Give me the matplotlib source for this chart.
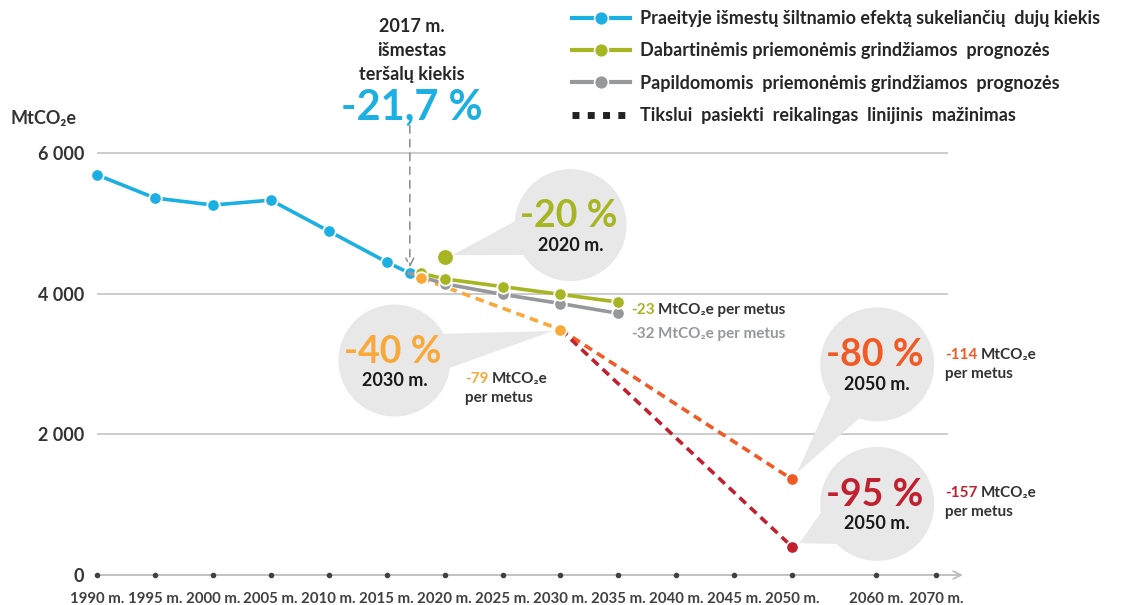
import numpy as np
import matplotlib
matplotlib.use('Agg')
import matplotlib.pyplot as plt
from matplotlib.lines import Line2D
from matplotlib.patches import Circle, Polygon
from matplotlib.transforms import IdentityTransform
from matplotlib.ticker import NullLocator

FONT = ['Lato', 'DejaVu Sans']
plt.rcParams['font.family'] = FONT
plt.rcParams['font.weight'] = 'bold'

# ---------------- data ----------------
hist_years = [1990, 1995, 2000, 2005, 2010, 2015, 2017]
hist_vals = [5690, 5360, 5260, 5330, 4890, 4450, 4290]

wem_years = [2018, 2020, 2025, 2030, 2035]
wem_vals = [4290, 4210, 4100, 3990, 3880]

wam_years = [2017, 2020, 2025, 2030, 2035]
wam_vals = [4290, 4140, 3990, 3860, 3720]

target_2020_year = [2020]
target_2020_val = [4520]

lin80_years = [2018, 2030, 2050]
lin80_vals = [4220, 3490, 1360]

lin95_years = [2030, 2050]
lin95_vals = [3490, 400]

tick_years = [1990, 1995, 2000, 2005, 2010, 2015, 2020, 2025, 2030, 2035,
              2040, 2045, 2050, 2060, 2070]
tick_labels = [f"{y} m." for y in tick_years]
y_ticks = [0, 2000, 4000, 6000]
y_labels = ["0", "2 000", "4 000", "6 000"]

legend_labels = ["Praeityje išmestų šiltnamio efektą sukeliančių  dujų kiekis",
                 "Dabartinėmis priemonėmis grindžiamos  prognozės",
                 "Papildomomis  priemonėmis grindžiamos  prognozės",
                 "Tikslui  pasiekti  reikalingas  linijinis  mažinimas"]

BLUE = '#1cb0e2'
GREEN = '#a6b521'
GRAY = '#96989b'
LORANGE = '#f8a93a'
ORANGE = '#f15a24'
RED = '#c1202f'
DARK = '#262626'
BUBBLE = '#e8e8e8'

# ------------- piecewise x scale -------------
BY = np.array([1990., 2050., 2060., 2070.])
BP = np.array([0., 12., 12 + 84 / 58, 12 + 84 / 58 + 60 / 58])


def fwd(x):
    x = np.asarray(x, float)
    out = np.interp(x, BY, BP)
    out = np.where(x < BY[0], (x - BY[0]) / 5, out)
    out = np.where(x > BY[-1], BP[-1] + (x - BY[-1]) * (BP[-1] - BP[-2]) / 10, out)
    return out


def inv(p):
    p = np.asarray(p, float)
    out = np.interp(p, BP, BY)
    out = np.where(p < BP[0], BY[0] + p * 5, out)
    out = np.where(p > BP[-1], BY[-1] + (p - BP[-1]) * 10 / (BP[-1] - BP[-2]), out)
    return out


fig = plt.figure(figsize=(11.22, 6.05), dpi=100)
ax = fig.add_axes([97 / 1122, 30 / 605, 839 / 1122, 422 / 605])
ax.set_xscale('function', functions=(fwd, inv))
ax.set_xlim(1990, 2070)
ax.set_ylim(0, 6000)
for s in ax.spines.values():
    s.set_visible(False)

# grid and axis
ax.hlines(y_ticks[1:], 1990, 2072, color='#c8c8c8', lw=1.3, zorder=1, clip_on=False)
ax.annotate('', xy=(2074.5, 0), xytext=(1990, 0),
            arrowprops=dict(arrowstyle='->', color='#bdbdbd', lw=1.3, mutation_scale=14,
                            shrinkA=0, shrinkB=0),
            annotation_clip=False, zorder=2)
ax.scatter(tick_years, [0] * len(tick_years), s=9, color='#404040', zorder=5, clip_on=False)

ax.set_xticks(tick_years)
ax.set_xticklabels(tick_labels)
ax.xaxis.set_minor_locator(NullLocator())
ax.tick_params(axis='x', length=0, pad=12, labelsize=10.8, labelcolor='#404040')
ax.set_yticks(y_ticks)
ax.set_yticklabels(y_labels)
ax.tick_params(axis='y', length=0, pad=9, labelsize=13, labelcolor='#333333')

fig.text(10 / 1122, 1 - 118 / 605, "MtCO₂e", fontsize=13, color='#333333', va='center',
         ha='left', fontweight='bold')

# ------------- bubbles -------------
def bubble(pt, dx, dy, r, pct, pct_color, year_lbl):
    px, py = ax.transData.transform(pt)
    cx, cy = px + dx, py + dy
    ang = np.arctan2(py - cy, px - cx)
    half = np.radians(18)
    b1 = (cx + r * np.cos(ang + half), cy + r * np.sin(ang + half))
    b2 = (cx + r * np.cos(ang - half), cy + r * np.sin(ang - half))
    d = np.hypot(px - cx, py - cy)
    tip = (cx + (d - 8) * np.cos(ang), cy + (d - 8) * np.sin(ang))
    ax.add_patch(Polygon([b1, tip, b2, (cx, cy)], closed=True, transform=IdentityTransform(),
                         facecolor=BUBBLE, edgecolor='none', zorder=3, clip_on=False))
    ax.add_patch(Circle((cx, cy), r, transform=IdentityTransform(), facecolor=BUBBLE,
                        edgecolor='none', zorder=3, clip_on=False))
    ax.annotate(pct, xy=pt, xytext=(dx - 2, dy + 9), textcoords='offset pixels',
                ha='center', va='center', fontsize=27, color=pct_color, fontweight='bold',
                zorder=4, annotation_clip=False)
    ax.annotate(year_lbl, xy=pt, xytext=(dx, dy - 20), textcoords='offset pixels',
                ha='center', va='center', fontsize=13, color='#1a1a1a', fontweight='bold',
                zorder=4, annotation_clip=False)


bubble((target_2020_year[0], target_2020_val[0]), 126, 32, 56, "-20 %", GREEN, "2020 m.")
bubble((lin80_years[1], lin80_vals[1]), -166, -31, 56, "-40 %", LORANGE, "2030 m.")
bubble((lin80_years[2], lin80_vals[2]), 85, 115, 57, "-80 %", ORANGE, "2050 m.")
bubble((lin95_years[1], lin95_vals[1]), 85, 43, 57, "-95 %", RED, "2050 m.")

# ------------- series -------------
MS = 9
mk = dict(marker='o', mec='white', mew=1.3, clip_on=False)
dash = (0, (2.4, 1.6))
ax.plot(lin80_years[:2], lin80_vals[:2], color=LORANGE, lw=2.6, ls=dash, zorder=5,
        ms=MS, **mk)
ax.plot(lin80_years[1:], lin80_vals[1:], color=ORANGE, lw=2.6, ls=dash, zorder=5,
        markevery=[1], ms=MS, **mk)
ax.plot(lin95_years, lin95_vals, color=RED, lw=2.6, ls=dash, zorder=5,
        markevery=[1], ms=MS, **mk)
ax.plot(lin80_years[1:2], lin80_vals[1:2], color=LORANGE, lw=0, ms=MS, zorder=6, **mk)
ax.plot(hist_years, hist_vals, color=BLUE, lw=2.6, ms=MS, zorder=6, **mk)
ax.plot(wam_years, wam_vals, color=GRAY, lw=2.6, ms=MS, zorder=6, markevery=[1, 2, 3, 4], **mk)
ax.plot(wem_years, wem_vals, color=GREEN, lw=2.6, ms=MS, zorder=7, **mk)
ax.plot(lin80_years[:1], lin80_vals[:1], color=LORANGE, lw=0, ms=MS, zorder=8, **mk)
ax.plot(target_2020_year, target_2020_val, color=GREEN, lw=0, ms=12, zorder=7, **mk)

# ------------- rate labels -------------
def rate(pt, dx, dy, num, color, rest_color, rest, second=None):
    t = ax.annotate(num, xy=pt, xytext=(dx, dy), textcoords='offset pixels', ha='left',
                    va='center', fontsize=11, color=color, fontweight='bold',
                    annotation_clip=False, zorder=6)
    ax.annotate(rest, xy=(1, 0.5), xycoords=t, xytext=(3, 0), textcoords='offset pixels',
                ha='left', va='center', fontsize=11, color=rest_color, fontweight='bold',
                annotation_clip=False, zorder=6)
    if second:
        ax.annotate(second, xy=pt, xytext=(dx, dy - 19), textcoords='offset pixels',
                    ha='left', va='center', fontsize=11, color=rest_color, fontweight='bold',
                    annotation_clip=False, zorder=6)


rate((wem_years[-1], wem_vals[-1]), 13, -8, "-23", GREEN, '#333333', "MtCO₂e per metus")
rate((wam_years[-1], wam_vals[-1]), 13, -21, "-32", GRAY, GRAY, "MtCO₂e per metus")
rate((lin80_years[1], lin80_vals[1]), -95, -49, "-79", LORANGE, '#333333', "MtCO₂e", "per metus")
rate((lin80_years[2], lin80_vals[2]), 153, 124, "-114", ORANGE, '#333333', "MtCO₂e", "per metus")
rate((lin95_years[1], lin95_vals[1]), 153, 54, "-157", RED, '#333333', "MtCO₂e", "per metus")

# ------------- 2017 annotation -------------
p17 = (hist_years[-1], hist_vals[-1])
ax.annotate('', xy=(p17[0], p17[1] + 80), xytext=(p17[0], 6390),
            arrowprops=dict(arrowstyle='->', color='#8c8c8c', lw=1.1, ls=(0, (5, 4)),
                            mutation_scale=14, shrinkA=0, shrinkB=0),
            annotation_clip=False)
ax.annotate("2017 m.\nišmestas\nteršalų kiekis", xy=p17, xytext=(2, 223),
            textcoords='offset pixels', ha='center', va='center', fontsize=13,
            color=DARK, fontweight='bold', linespacing=1.5, annotation_clip=False)
ax.annotate("-21,7 %", xy=p17, xytext=(2, 165), textcoords='offset pixels', ha='center',
            va='center', fontsize=30, color=BLUE, fontweight='bold', annotation_clip=False)

# ------------- legend -------------
handles = [Line2D([], [], color=BLUE, lw=3, marker='o', ms=10, mec='white', mew=1.2),
           Line2D([], [], color=GREEN, lw=3, marker='o', ms=10, mec='white', mew=1.2),
           Line2D([], [], color=GRAY, lw=3, marker='o', ms=10, mec='white', mew=1.2),
           Line2D([], [], color='#222222', lw=5, ls=(0, (1, 1.2)))]
leg = fig.legend(handles, legend_labels, loc='upper left',
                 bbox_to_anchor=(572 / 1122, 1 - 10 / 605), frameon=False, fontsize=13,
                 handlelength=3.2, handletextpad=0.55, labelspacing=0.85, borderaxespad=0,
                 borderpad=0)
for t in leg.get_texts():
    t.set_color(DARK)
    t.set_fontweight('bold')

fig.savefig('out.png', dpi=100)
